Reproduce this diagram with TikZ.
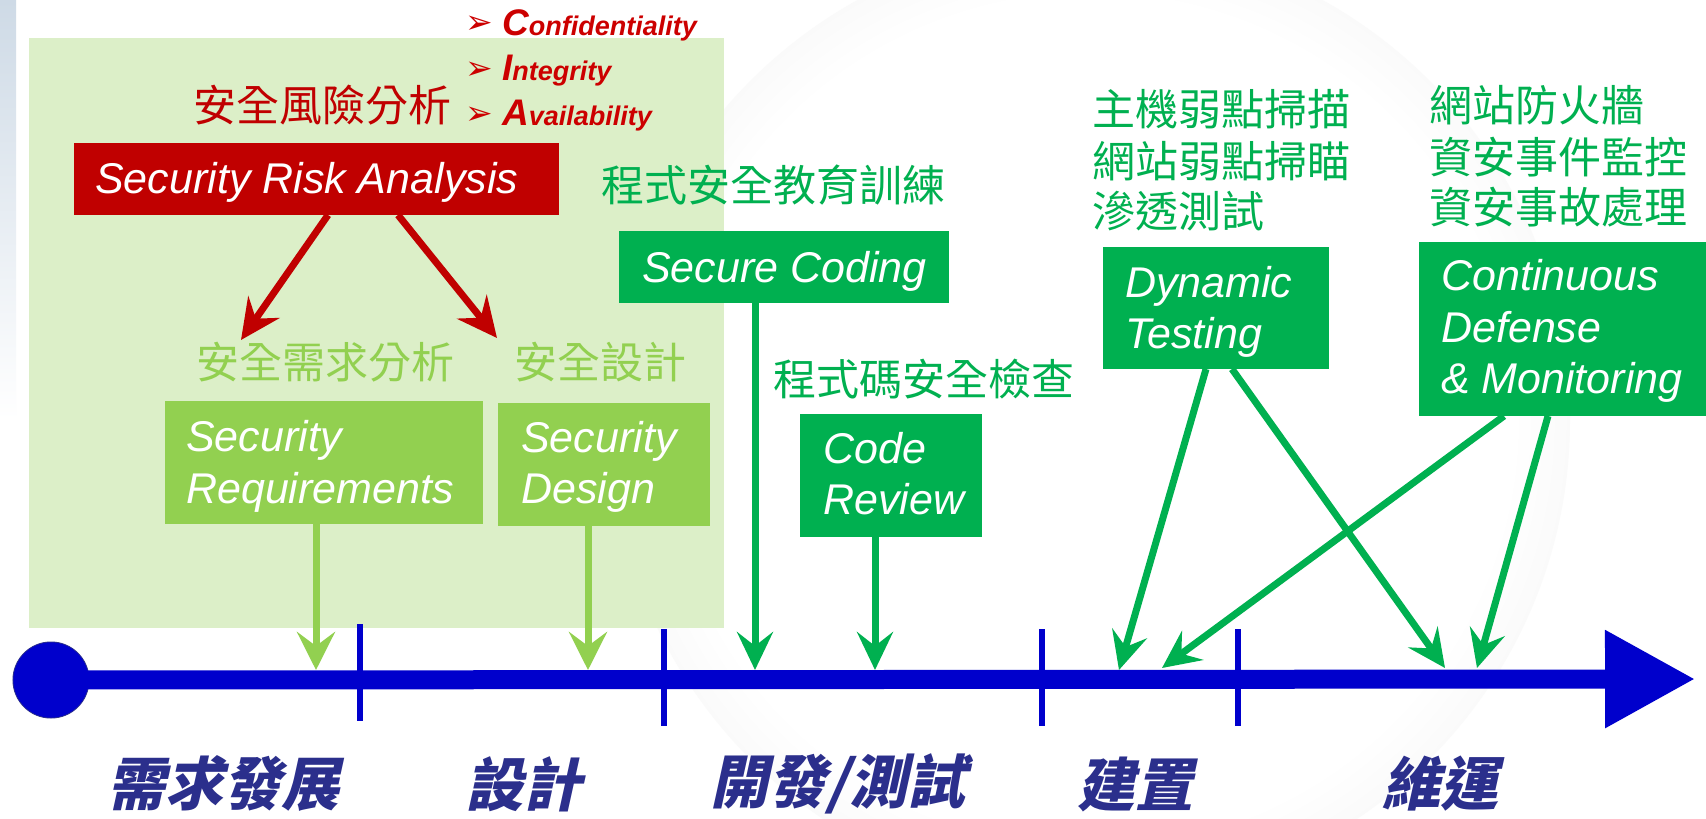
\documentclass[tikz,border=0pt]{standalone}
\usepackage{fontspec}
\setmainfont{Liberation Sans}
\newfontfamily\cjk{Noto Sans CJK TC}
\newfontfamily\cjkslant[FakeSlant=0.22]{Noto Sans CJK TC}
\newfontfamily\dejavu{DejaVu Sans}
\usetikzlibrary{arrows.meta}
\definecolor{panelgreen}{RGB}{220,239,200}
\definecolor{lightgreen}{RGB}{146,208,80}
\definecolor{darkgreen}{RGB}{0,176,80}
\definecolor{darkred}{RGB}{192,0,0}
\definecolor{ciared}{RGB}{204,0,0}
\definecolor{axisblue}{RGB}{0,0,204}
\definecolor{phaseblue}{RGB}{43,47,140}
\definecolor{stripblue}{RGB}{206,218,230}
\definecolor{globegray}{RGB}{226,226,226}
\pgfdeclareradialshading{globe}{\pgfpoint{0bp}{0bp}}{color(0bp)=(white); color(22bp)=(white); color(40bp)=(globegray); color(45bp)=(globegray); color(50bp)=(white)}
\tikzset{
  box/.style={inner sep=0pt, outer sep=0pt, anchor=north west},
  boxtext/.style={inner sep=0pt, anchor=base west, text=white, font=\fontsize{43}{50}\selectfont\itshape},
  cjklabel/.style={inner sep=0pt, anchor=west, font=\cjk\fontsize{43}{50}\selectfont},
  phase/.style={inner sep=0pt, anchor=center, text=phaseblue, font=\cjkslant\bfseries\fontsize{58}{64}\selectfont},
  cia/.style={inner sep=0pt, anchor=base west, text=ciared, font=\fontsize{27}{30}\selectfont\bfseries\itshape},
  ciabullet/.style={inner sep=0pt, anchor=base west, text=ciared, font=\dejavu\fontsize{33}{36}\selectfont},
  redarrow/.style={draw=darkred, line width=7pt, -{Stealth[length=40pt,width=38pt,inset=14pt]}},
  greenarrow/.style={draw=darkgreen, line width=7pt, -{Stealth[length=38pt,width=36pt,inset=14pt]}},
  lgarrow/.style={draw=lightgreen, line width=7pt, -{Stealth[length=38pt,width=38pt,inset=14pt]}},
  tick/.style={draw=axisblue, line width=6pt}
}
\begin{document}
\begin{tikzpicture}[x=1pt,y=-1pt]
\useasboundingbox (0,0) rectangle (1706,819);
\fill[white] (0,0) rectangle (1706,819);
% background decoration
\shade[shading=globe] (1090,420) circle (480);
\shade[top color=stripblue, bottom color=white] (0,0) rectangle (16,420);
% light green panel
\fill[panelgreen] (29,38) rectangle (724,628);

% risk analysis
\node[cjklabel, text=darkred] (riskcjk) at (193,105.5) {安全風險分析};
\node[ciabullet] (b1) at (465,34) {➢};
\node[ciabullet] (b2) at (465,79) {➢};
\node[ciabullet] (b3) at (465,124) {➢};
\node[cia] (conf) at (502,35) {{\fontsize{37}{40}\selectfont C}onfidentiality};
\node[cia] (integ) at (502,80) {{\fontsize{37}{40}\selectfont I}ntegrity};
\node[cia] (avail) at (502,125) {{\fontsize{37}{40}\selectfont A}vailability};
\node[box, fill=darkred, minimum width=485pt, minimum height=72pt] (sra) at (74,143) {};
\node[boxtext] (sratxt) at (95,193) {Security Risk Analysis};

% requirements & design
\node[cjklabel, text=lightgreen] (reqcjk) at (196,362.5) {安全需求分析};
\node[cjklabel, text=lightgreen] (descjk) at (514,362.5) {安全設計};
\node[box, fill=lightgreen, minimum width=318pt, minimum height=123pt] (req) at (165,401) {};
\node[boxtext] (reqt1) at (186,451) {Security};
\node[boxtext] (reqt2) at (186,503) {Requirements};
\node[box, fill=lightgreen, minimum width=212pt, minimum height=123pt] (des) at (498,403) {};
\node[boxtext] (dest1) at (521,452) {Security};
\node[boxtext] (dest2) at (521,503) {Design};

% secure coding & code review
\node[cjklabel, text=darkgreen] (sccjk) at (601,185) {程式安全教育訓練};
\node[box, fill=darkgreen, minimum width=330pt, minimum height=72pt] (sc) at (619,231) {};
\node[boxtext] (sctxt) at (642,282) {Secure Coding};
\node[cjklabel, text=darkgreen] (crcjk) at (773,379) {程式碼安全檢查};
\node[box, fill=darkgreen, minimum width=182pt, minimum height=123pt] (cr) at (800,414) {};
\node[boxtext] (crt1) at (823,463) {Code};
\node[boxtext] (crt2) at (823,514) {Review};

% dynamic testing
\node[cjklabel, text=darkgreen] (dt1cjk) at (1092,109) {主機弱點掃描};
\node[cjklabel, text=darkgreen] (dt2cjk) at (1092,161) {網站弱點掃瞄};
\node[cjklabel, text=darkgreen] (dt3cjk) at (1092,211) {滲透測試};
\node[box, fill=darkgreen, minimum width=226pt, minimum height=122pt] (dt) at (1103,247) {};
\node[boxtext] (dtt1) at (1125,297) {Dynamic};
\node[boxtext] (dtt2) at (1125,348) {Testing};

% continuous defense
\node[cjklabel, text=darkgreen] (cd1cjk) at (1429,105) {網站防火牆};
\node[cjklabel, text=darkgreen] (cd2cjk) at (1429,157.5) {資安事件監控};
\node[cjklabel, text=darkgreen] (cd3cjk) at (1429,207.5) {資安事故處理};
\node[box, fill=darkgreen, minimum width=287pt, minimum height=174pt] (cd) at (1419,242) {};
\node[boxtext] (cdt1) at (1441,290) {Continuous};
\node[boxtext] (cdt2) at (1441,342) {Defense};
\node[boxtext] (cdt3) at (1441,393) {\& Monitoring};

% timeline
\coordinate (axisend) at (1695,679);
\node[circle, fill=axisblue, draw=phaseblue, line width=1pt, minimum size=76pt, inner sep=0pt] (origin) at (51,680) {};
\draw[draw=axisblue, line width=19pt, -{Triangle[length=90pt,width=93pt]}] (origin.center) -- (axisend);
\fill[axisblue] (origin) circle (37.5);
\draw[tick] (360,624) -- (360,721);
\draw[tick] (664,629) -- (664,726);
\draw[tick] (1042,629) -- (1042,726);
\draw[tick] (1238,629) -- (1238,726);

% arrow targets on the axis
\coordinate (p1) at (316,670);
\coordinate (p2) at (588,670);
\coordinate (p3) at (755,670);
\coordinate (p4) at (875,670);
\coordinate (p5) at (1119,670);
\coordinate (p6) at (1162,668);
\coordinate (p7) at (1445,668);
\coordinate (p8) at (1477,668);
\coordinate (rq) at (241,340);
\coordinate (ds) at (497,338);

% connectors
\draw[redarrow] ([xshift=254pt]sra.south west) -- (rq);
\draw[redarrow] ([xshift=324pt]sra.south west) -- (ds);
\draw[lgarrow] (req.south -| p1) -- (p1);
\draw[lgarrow] (des.south -| p2) -- (p2);
\draw[greenarrow] (sc.south -| p3) -- (p3);
\draw[greenarrow] (cr.south -| p4) -- (p4);
\draw[greenarrow] ([xshift=103pt]dt.south west) -- (p5);
\draw[greenarrow] ([xshift=129pt]dt.south west) -- (p7);
\draw[greenarrow] ([xshift=85pt]cd.south west) -- (p6);
\draw[greenarrow] ([xshift=129pt]cd.south west) -- (p8);

% phase labels
\node[phase] (ph1) at (223,784) {需求發展};
\node[phase] (ph2) at (523,784) {設計};
\node[phase] (ph3) at (838,784) {開發/測試};
\node[phase] (ph4) at (1135,784) {建置};
\node[phase] (ph5) at (1440,784) {維運};
\end{tikzpicture}
\end{document}
